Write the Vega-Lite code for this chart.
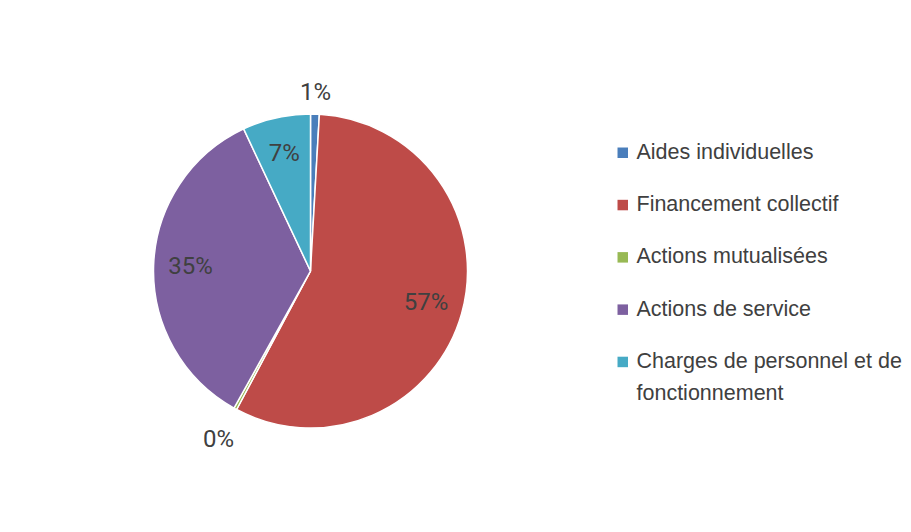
{
  "$schema": "https://vega.github.io/schema/vega-lite/v6.json",
  "width": 605,
  "height": 532,
  "padding": {"left": 8, "top": 5, "right": 0, "bottom": 0},
  "background": "white",
  "data": {
    "values": [
      {"category": "Aides individuelles", "value": 0.009},
      {"category": "Financement collectif", "value": 0.569},
      {"category": "Actions mutualisées", "value": 0.003},
      {"category": "Actions de service", "value": 0.349},
      {"category": "Charges de personnel et de fonctionnement", "value": 0.07}
    ]
  },
  "transform": [{"window": [{"op": "row_number", "as": "idx"}]}],
  "encoding": {
    "theta": {"field": "value", "type": "quantitative", "stack": true},
    "order": {"field": "idx", "type": "quantitative"},
    "detail": {"field": "category", "type": "nominal"}
  },
  "layer": [
    {
      "mark": {"type": "arc", "outerRadius": 157, "stroke": "white", "strokeWidth": 1.5},
      "encoding": {
        "color": {
          "field": "category",
          "type": "nominal",
          "sort": null,
          "scale": {"range": ["#4a7ebb", "#be4b48", "#98b954", "#7d60a0", "#46aac5"]},
          "legend": {
            "title": null,
            "orient": "none",
            "legendX": 604,
            "legendY": 137,
            "padding": 0,
            "symbolType": "square",
            "symbolSize": 110,
            "symbolStrokeWidth": 0,
            "labelFont": "Liberation Sans",
            "labelFontSize": 21.5,
            "labelColor": "#404040",
            "labelOffset": 3,
            "labelLimit": 400,
            "rowPadding": 29.3,
            "labelExpr": "datum.label == 'Charges de personnel et de fonctionnement' ? ['Charges de personnel  et de', 'fonctionnement'] : datum.label"
          }
        }
      }
    },
    {
      "mark": {"type": "text", "radius": 120, "font": "Roboto", "fontSize": 24, "color": "#404040"},
      "encoding": {
        "text": {"condition": {"test": "datum.value >= 0.02", "field": "value", "type": "quantitative", "format": ".0%"}, "value": ""}
      }
    },
    {
      "mark": {"type": "text", "radius": 178, "font": "Roboto", "fontSize": 24, "color": "#404040"},
      "encoding": {
        "text": {"condition": {"test": "datum.value < 0.02 && datum.value >= 0.005", "field": "value", "type": "quantitative", "format": ".0%"}, "value": ""}
      }
    },
    {
      "mark": {"type": "text", "radius": 192, "font": "Roboto", "fontSize": 24, "color": "#404040"},
      "encoding": {
        "text": {"condition": {"test": "datum.value < 0.005", "field": "value", "type": "quantitative", "format": ".0%"}, "value": ""}
      }
    }
  ],
  "config": {
    "view": {"stroke": null},
    "style": {"guide-label": {"lineHeight": 32}}
  }
}
